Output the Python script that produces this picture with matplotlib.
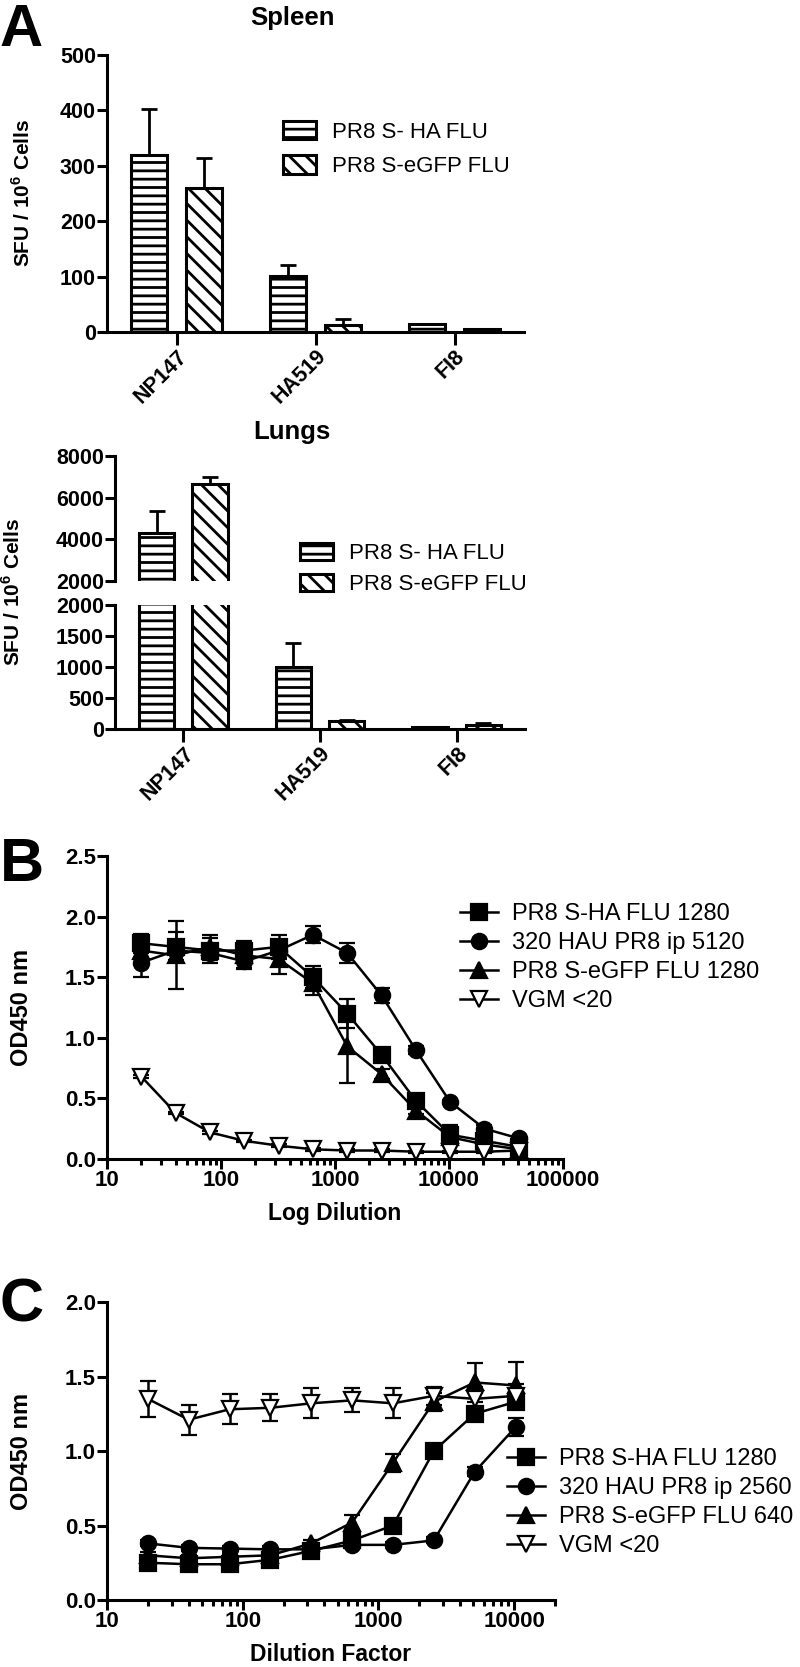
import numpy as np
import matplotlib
matplotlib.use("Agg")
from matplotlib import pyplot as plt
from matplotlib.lines import Line2D
from matplotlib.ticker import LogLocator, NullFormatter

plt.rcParams["font.family"] = ["Liberation Sans", "DejaVu Sans"]
plt.rcParams["mathtext.fontset"] = "custom"
plt.rcParams["mathtext.rm"] = "Liberation Sans"
plt.rcParams["mathtext.bf"] = "Liberation Sans:bold"
plt.rcParams["hatch.linewidth"] = 2.0
plt.rcParams["axes.linewidth"] = 2.2

# ---- panel A data (SFU / 10^6 cells) ----
epitopes = ["NP147", "HA519", "FI8"]
bar_labels = ["PR8 S- HA FLU", "PR8 S-eGFP FLU"]
spleen_ha = [319, 101, 15]
spleen_ha_err = [83, 20, 0]
spleen_gfp = [260, 12, 5]
spleen_gfp_err = [54, 12, 0]
lung_ha = [4300, 1000, 30]
lung_ha_err = [1060, 385, 10]
lung_gfp = [6650, 130, 65]
lung_gfp_err = [340, 10, 35]

# ---- panel B data ----
dil_b = [20, 40, 80, 160, 320, 640, 1280, 2560, 5120, 10240, 20480, 40960]
b_labels = ["PR8 S-HA FLU 1280", "320 HAU PR8 ip 5120", "PR8 S-eGFP FLU 1280", "VGM <20"]
b_ha = [1.78, 1.75, 1.72, 1.72, 1.75, 1.50, 1.20, 0.86, 0.48, 0.20, 0.15, 0.10]
b_ha_err = [0.08, 0.12, 0.10, 0.08, 0.10, 0.09, 0.12, 0.05, 0.03, 0.08, 0.03, 0.02]
b_ip = [1.62, 1.72, 1.70, 1.63, 1.72, 1.85, 1.70, 1.35, 0.90, 0.47, 0.25, 0.17]
b_ip_err = [0.12, 0.08, 0.06, 0.06, 0.06, 0.07, 0.08, 0.06, 0.03, 0.02, 0.03, 0.02]
b_gfp = [1.72, 1.68, 1.75, 1.68, 1.65, 1.45, 0.93, 0.70, 0.40, 0.18, 0.12, 0.08]
b_gfp_err = [0.10, 0.28, 0.10, 0.10, 0.12, 0.10, 0.30, 0.04, 0.03, 0.02, 0.02, 0.02]
b_vgm = [0.68, 0.38, 0.22, 0.15, 0.11, 0.08, 0.07, 0.07, 0.06, 0.06, 0.06, 0.07]
b_vgm_err = [0.01] * 12

# ---- panel C data ----
dil_c = [20, 40, 80, 160, 320, 640, 1280, 2560, 5120, 10240]
c_labels = ["PR8 S-HA FLU 1280", "320 HAU PR8 ip 2560", "PR8 S-eGFP FLU 640", "VGM <20"]
c_ha = [0.25, 0.24, 0.24, 0.27, 0.33, 0.40, 0.50, 1.00, 1.25, 1.33]
c_ha_err = [0.02, 0.02, 0.02, 0.02, 0.02, 0.03, 0.03, 0.03, 0.04, 0.05]
c_ip = [0.38, 0.35, 0.345, 0.34, 0.34, 0.37, 0.37, 0.40, 0.86, 1.16]
c_ip_err = [0.02, 0.02, 0.02, 0.02, 0.02, 0.02, 0.02, 0.02, 0.03, 0.06]
c_gfp = [0.30, 0.28, 0.29, 0.30, 0.38, 0.52, 0.92, 1.33, 1.46, 1.44]
c_gfp_err = [0.02, 0.02, 0.02, 0.02, 0.02, 0.05, 0.06, 0.06, 0.13, 0.16]
c_vgm = [1.35, 1.21, 1.28, 1.29, 1.32, 1.34, 1.32, 1.37, 1.35, 1.37]
c_vgm_err = [0.12, 0.10, 0.10, 0.09, 0.10, 0.08, 0.10, 0.06, 0.08, 0.08]

W, H = 800, 1667
fig = plt.figure(figsize=(W / 100, H / 100), dpi=100)


def box(l, t, r, b):
    return [l / W, 1 - b / H, (r - l) / W, (b - t) / H]


def style(ax, size=15.5):
    for s in ["top", "right"]:
        ax.spines[s].set_visible(False)
    ax.tick_params(direction="out", length=7, width=2.2, labelsize=size, pad=1)
    for lab in ax.get_xticklabels() + ax.get_yticklabels():
        lab.set_fontweight("bold")


def draw_bars(ax, ha, ha_err, gfp, gfp_err):
    x = np.arange(len(epitopes))
    b1 = ax.bar(x - 0.195, ha, 0.26, color="white", edgecolor="k", hatch="--",
                linewidth=2.2, label=bar_labels[0])
    b2 = ax.bar(x + 0.195, gfp, 0.26, color="white", edgecolor="k", hatch="\\\\",
                linewidth=2.2, label=bar_labels[1])
    ax.errorbar(x - 0.195, ha, yerr=[np.zeros(3), ha_err], fmt="none", ecolor="k",
                elinewidth=2, capsize=6, capthick=2)
    ax.errorbar(x + 0.195, gfp, yerr=[np.zeros(3), gfp_err], fmt="none", ecolor="k",
                elinewidth=2, capsize=6, capthick=2)
    ax.set_xlim(-0.5, 2.5)
    return b1, b2


bold = dict(fontweight="bold")

# ---- Spleen ----
ax = fig.add_axes(box(107, 55, 524, 332))
b1, b2 = draw_bars(ax, spleen_ha, spleen_ha_err, spleen_gfp, spleen_gfp_err)
ax.set_ylim(0, 500)
ax.set_yticks([0, 100, 200, 300, 400, 500])
ax.set_xticks(range(3))
ax.set_xticklabels(epitopes, rotation=45, ha="right", rotation_mode="anchor")
style(ax)
ax.tick_params(axis="x", length=9)
fig.text(23 / W, 1 - 193 / H, r"SFU / 10$^\mathbf{6}$ Cells", rotation=90,
         ha="center", va="center", fontsize=15, **bold)
fig.text(292 / W, 1 - 18 / H, "Spleen", ha="center", va="center", fontsize=18.5, **bold)
fig.legend([b1, b2], bar_labels, loc="upper left", bbox_to_anchor=(283 / W, 1 - 121 / H),
           frameon=False, fontsize=16, handlelength=1.5, handleheight=0.9,
           labelspacing=0.55, borderpad=0, borderaxespad=0, handletextpad=0.7)

# ---- Lungs (broken y axis) ----
ax_top = fig.add_axes(box(115, 456, 525, 581))
ax_bot = fig.add_axes(box(115, 605, 525, 729))
b1, b2 = draw_bars(ax_top, lung_ha, lung_ha_err, lung_gfp, lung_gfp_err)
draw_bars(ax_bot, lung_ha, lung_ha_err, lung_gfp, lung_gfp_err)
ax_top.set_ylim(2000, 8000)
ax_top.set_yticks([2000, 4000, 6000, 8000])
ax_bot.set_ylim(0, 2000)
ax_bot.set_yticks([0, 500, 1000, 1500, 2000])
ax_bot.set_xticks(range(3))
ax_bot.set_xticklabels(epitopes, rotation=45, ha="right", rotation_mode="anchor")
style(ax_top)
style(ax_bot)
ax_top.spines["bottom"].set_visible(False)
ax_top.tick_params(axis="x", bottom=False, labelbottom=False)
ax_bot.tick_params(axis="x", length=9)
fig.text(13 / W, 1 - 592 / H, r"SFU / 10$^\mathbf{6}$ Cells", rotation=90,
         ha="center", va="center", fontsize=15, **bold)
fig.text(292 / W, 1 - 432 / H, "Lungs", ha="center", va="center", fontsize=18.5, **bold)
fig.legend([b1, b2], bar_labels, loc="upper left", bbox_to_anchor=(300 / W, 1 - 543 / H),
           frameon=False, fontsize=16, handlelength=1.5, handleheight=0.8,
           labelspacing=0.45, borderpad=0, borderaxespad=0, handletextpad=0.7)

fig.text(0, 1 - 3 / H, "A", ha="left", va="top", fontsize=43, **bold)


# ---- line panels ----
def draw_lines(ax, x, series, labels):
    markers = [("s", "k", 11), ("o", "k", 11), ("^", "k", 11), ("v", "white", 11)]
    handles = []
    for (y, e), (m, fc, ms) in zip(series, markers):
        ax.errorbar(x, y, yerr=e, fmt="-", color="k", marker=m, mfc=fc, mec="k",
                    ms=ms, mew=1.6, lw=1.8, elinewidth=1.8, capsize=6, capthick=1.8,
                    clip_on=False)
        handles.append(Line2D([], [], color="k", lw=1.8, marker=m, mfc=fc, mec="k",
                              ms=ms, mew=1.6))
    ax.set_xscale("log")
    ax.xaxis.set_minor_locator(LogLocator(base=10, subs=np.arange(2, 10)))
    ax.xaxis.set_minor_formatter(NullFormatter())
    return handles


# ---- B ----
ax = fig.add_axes(box(107, 856, 563, 1159))
hb = draw_lines(ax, dil_b, [(b_ha, b_ha_err), (b_ip, b_ip_err), (b_gfp, b_gfp_err),
                            (b_vgm, b_vgm_err)], b_labels)
ax.set_xlim(10, 100000)
ax.set_ylim(0, 2.5)
ax.set_xticks([10, 100, 1000, 10000, 100000],
              labels=["10", "100", "1000", "10000", "100000"])
ax.set_yticks([0, 0.5, 1.0, 1.5, 2.0, 2.5], labels=["0.0", "0.5", "1.0", "1.5", "2.0", "2.5"])
style(ax, 16)
ax.tick_params(axis="x", which="minor", length=4, width=2.2)
ax.set_xlabel("Log Dilution", fontsize=16.5, labelpad=8, **bold)
fig.text(22 / W, 1 - 1007 / H, "OD450 nm", rotation=90, ha="center", va="center",
         fontsize=17, **bold)
fig.legend(hb, b_labels, loc="upper left", bbox_to_anchor=(460 / W, 1 - 903 / H),
           frameon=False, fontsize=17, handlelength=1.6, labelspacing=0.3,
           borderpad=0, borderaxespad=0, handletextpad=0.6)
fig.text(0, 1 - 865 / H, "B", ha="left", va="center", fontsize=44, **bold)

# ---- C ----
ax = fig.add_axes(box(107, 1302, 555, 1600))
hc = draw_lines(ax, dil_c, [(c_ha, c_ha_err), (c_ip, c_ip_err), (c_gfp, c_gfp_err),
                            (c_vgm, c_vgm_err)], c_labels)
ax.set_xlim(10, 20000)
ax.set_ylim(0, 2.0)
ax.set_xticks([10, 100, 1000, 10000], labels=["10", "100", "1000", "10000"])
ax.set_yticks([0, 0.5, 1.0, 1.5, 2.0], labels=["0.0", "0.5", "1.0", "1.5", "2.0"])
style(ax, 16)
ax.tick_params(axis="x", which="minor", length=4, width=2.2)
ax.set_xlabel("Dilution Factor", fontsize=16.5, labelpad=8, **bold)
fig.text(22 / W, 1 - 1451 / H, "OD450 nm", rotation=90, ha="center", va="center",
         fontsize=17, **bold)
fig.legend(hc, c_labels, loc="upper left", bbox_to_anchor=(507 / W, 1 - 1448 / H),
           frameon=False, fontsize=17, handlelength=1.6, labelspacing=0.3,
           borderpad=0, borderaxespad=0, handletextpad=0.6)
fig.text(0, 1 - 1306 / H, "C", ha="left", va="center", fontsize=44, **bold)

fig.savefig("out.png", dpi=100)
